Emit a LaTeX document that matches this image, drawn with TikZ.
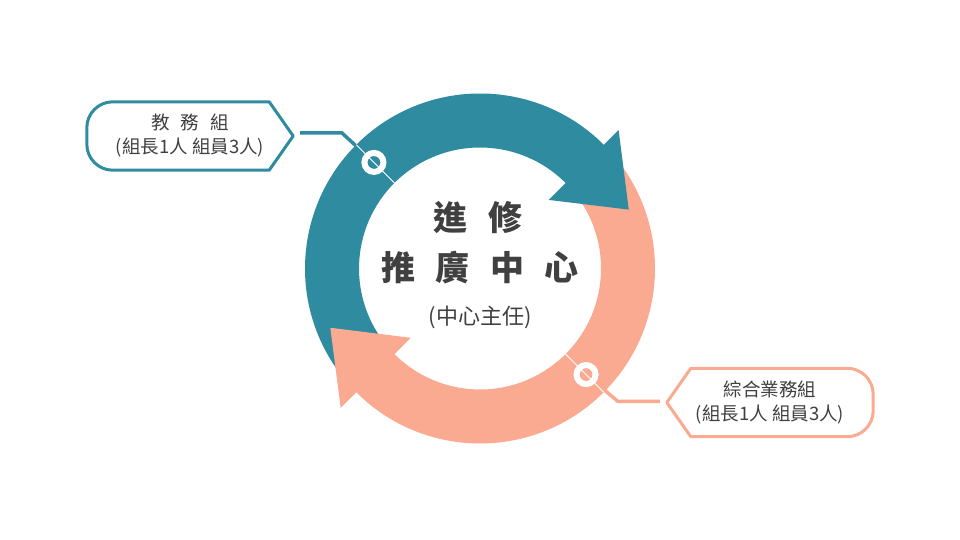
\documentclass[tikz,border=0pt]{standalone}
\usepackage{fontspec}
\setmainfont{Noto Sans CJK TC}
\usetikzlibrary{backgrounds}
\definecolor{ringteal}{RGB}{46,139,160}
\definecolor{ringsalmon}{RGB}{250,170,145}
\definecolor{textgrey}{RGB}{64,64,64}

\begin{document}
\begin{tikzpicture}[x=1pt,y=1pt,
	txt/.style={text=textgrey,align=center,font=\fontsize{18.5}{24}\selectfont},
	box/.style={minimum width=206,minimum height=68,inner sep=0},
	title/.style={text=textgrey,font=\bfseries\fontsize{34}{40}\selectfont},
	tag/.style={line width=3pt,fill=white,line join=round},
	link/.style={line width=3.5pt},
	hole/.style={white,line width=6pt}]
	\useasboundingbox (0,0) rectangle (960,540);
	\coordinate (c) at (480,271.5);
	\begin{scope}[shift={(c)}]
		% arrow bodies, then heads
		\fill[ringteal] (43:175) arc[start angle=43,end angle=218,radius=175]
			-- (218:121) arc[start angle=218,end angle=43,radius=121] -- cycle;
		\fill[ringsalmon] (223:175) arc[start angle=223,end angle=398,radius=175]
			-- (398:121) arc[start angle=398,end angle=223,radius=121] -- cycle;
		\fill[ringteal] (45:97) -- (21.6:160) -- (45:196) -- cycle;
		\fill[ringsalmon] (225:98) -- (201.6:161) -- (225:197) -- cycle;
		\coordinate (tring) at (135:150);
		\coordinate (sring) at (-45:150);
		\coordinate (tbend) at (-138,135.5);
		\coordinate (sbend) at (138,-133);
	\end{scope}

	\node[txt,box] (tbox) at (190,404) {教\hspace{0.6em}務\hspace{0.6em}組\\(組長1人 組員3人)};
	\node[txt,box] (sbox) at (770,137.5) {綜合業務組\\(組長1人 組員3人)};
	\begin{pgfonlayer}{background}
		\draw[tag,draw=ringteal] ([xshift=-24]tbox.north east) -- (tbox.east)
			-- ([xshift=-24]tbox.south east) -- ([xshift=26]tbox.south west)
			arc[start angle=270,end angle=180,radius=26] -- ([yshift=-26]tbox.north west)
			arc[start angle=180,end angle=90,radius=26] -- cycle;
		\draw[tag,draw=ringsalmon] ([xshift=24]sbox.north west) -- (sbox.west)
			-- ([xshift=24]sbox.south west) -- ([xshift=-26]sbox.south east)
			arc[start angle=-90,end angle=0,radius=26] -- ([yshift=-26]sbox.north east)
			arc[start angle=0,end angle=90,radius=26] -- cycle;
	\end{pgfonlayer}

	\draw[link,ringteal,shorten >=7pt] (tring) -- (tbend) -- (tbend -| tbox.east);
	\draw[link,ringsalmon,shorten >=7pt] (sring) -- (sbend) -- (sbend -| sbox.west);
	\begin{scope}[shift={(c)},white,line width=1pt]
		\draw (135:121) -- (135:175);
		\draw (-45:121) -- (-45:175);
	\end{scope}
	\draw[hole] (tring) circle[radius=9.5];
	\draw[hole] (sring) circle[radius=9.5];

	\node[title] (line1) at (478,322) {進\hspace{0.6em}修};
	\node[title] (line2) at (480,272) {推\hspace{0.6em}廣\hspace{0.6em}中\hspace{0.6em}心};
	\node[txt,font=\fontsize{22}{26}\selectfont] (line3) at (480,223) {(中心主任)};
\end{tikzpicture}
\end{document}
